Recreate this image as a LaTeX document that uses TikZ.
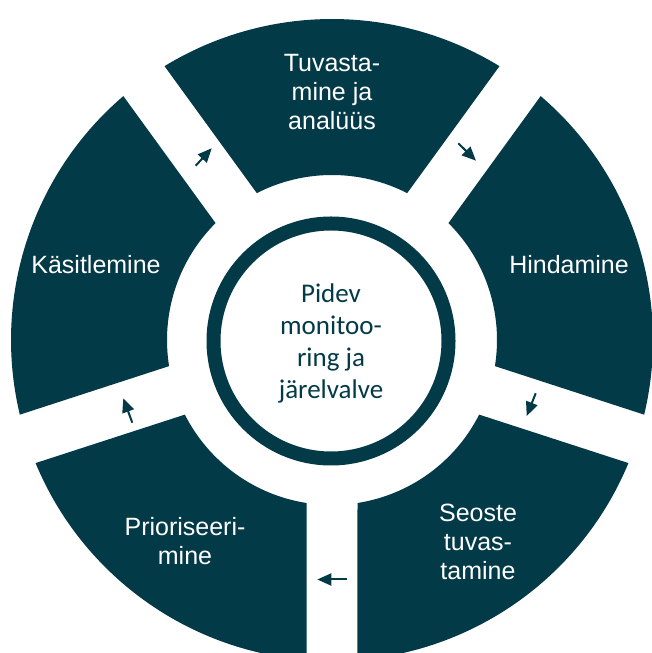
\documentclass[tikz,border=0pt]{standalone}
\usepackage{fontspec}
\setmainfont{Liberation Sans}
\newfontfamily\centerfont{Carlito}
\usetikzlibrary{arrows.meta,calc}
\definecolor{darkteal}{HTML}{033A47}
\begin{document}
\begin{tikzpicture}[x=1pt,y=1pt,
  sector/.style={fill=darkteal},
  seclabel/.style={text=white, align=center, inner sep=0pt, font=\fontsize{25}{29}\selectfont},
  centerlabel/.style={text=darkteal, align=center, inner sep=0pt, font=\centerfont\fontsize{27}{32}\selectfont},
  ringstyle/.style={circle, draw=darkteal, line width=14pt, minimum size=235pt, inner sep=0pt},
  flowarrow/.style={darkteal, line width=2pt, -{Triangle[length=14pt,width=12pt]}}]
\useasboundingbox (0,0) rectangle (652,653);
\clip (0,0) rectangle (652,653);
\fill[white] (0,0) rectangle (652,653);
\coordinate (C) at (332,313);
\def\secRo{321}\def\secRi{165}\def\secdO{4.55}\def\secdI{8.89}
\foreach \a in {54,126,198,270,342}{
  \pgfmathsetmacro\sA{\a+\secdO}
  \pgfmathsetmacro\eA{\a+72-\secdO}
  \pgfmathsetmacro\sI{\a+72-\secdI}
  \pgfmathsetmacro\eI{\a+\secdI}
  \fill[sector] ($(C)+(\sA:\secRo)$) arc[start angle=\sA, end angle=\eA, radius=\secRo]
     -- ($(C)+(\sI:\secRi)$) arc[start angle=\sI, end angle=\eI, radius=\secRi] -- cycle;
}
\node[ringstyle] (ring) at (331,312) {};
\node[centerlabel] (mon) at (331,309.3) {Pidev\\monitoo-\\ring ja\\järelvalve};
\node[seclabel] (tuv) at (332,561.4) {Tuvasta-\\mine ja\\analüüs};
\node[seclabel] (hin) at (569,388.5) {Hindamine};
\node[seclabel] (seo) at (478,111.3) {Seoste\\tuvas-\\tamine};
\node[seclabel] (pri) at (185,111.9) {Prioriseeri-\\mine};
\node[seclabel] (kas) at (96,388.5) {Käsitlemine};
\coordinate (a1s) at (195.7,487.3); \coordinate (a1e) at (211.7,504.7);
\coordinate (a2s) at (458.3,509.7); \coordinate (a2e) at (476,492.3);
\coordinate (a3s) at (535.7,259.7); \coordinate (a3e) at (526.7,237);
\coordinate (a4s) at (346.7,73.5);  \coordinate (a4e) at (317.3,73.5);
\coordinate (a5s) at (132.3,230.3); \coordinate (a5e) at (123.3,254.7);
\draw[flowarrow] (a1s) -- (a1e);
\draw[flowarrow] (a2s) -- (a2e);
\draw[flowarrow] (a3s) -- (a3e);
\draw[flowarrow] (a4s) -- (a4e);
\draw[flowarrow] (a5s) -- (a5e);
\end{tikzpicture}
\end{document}
